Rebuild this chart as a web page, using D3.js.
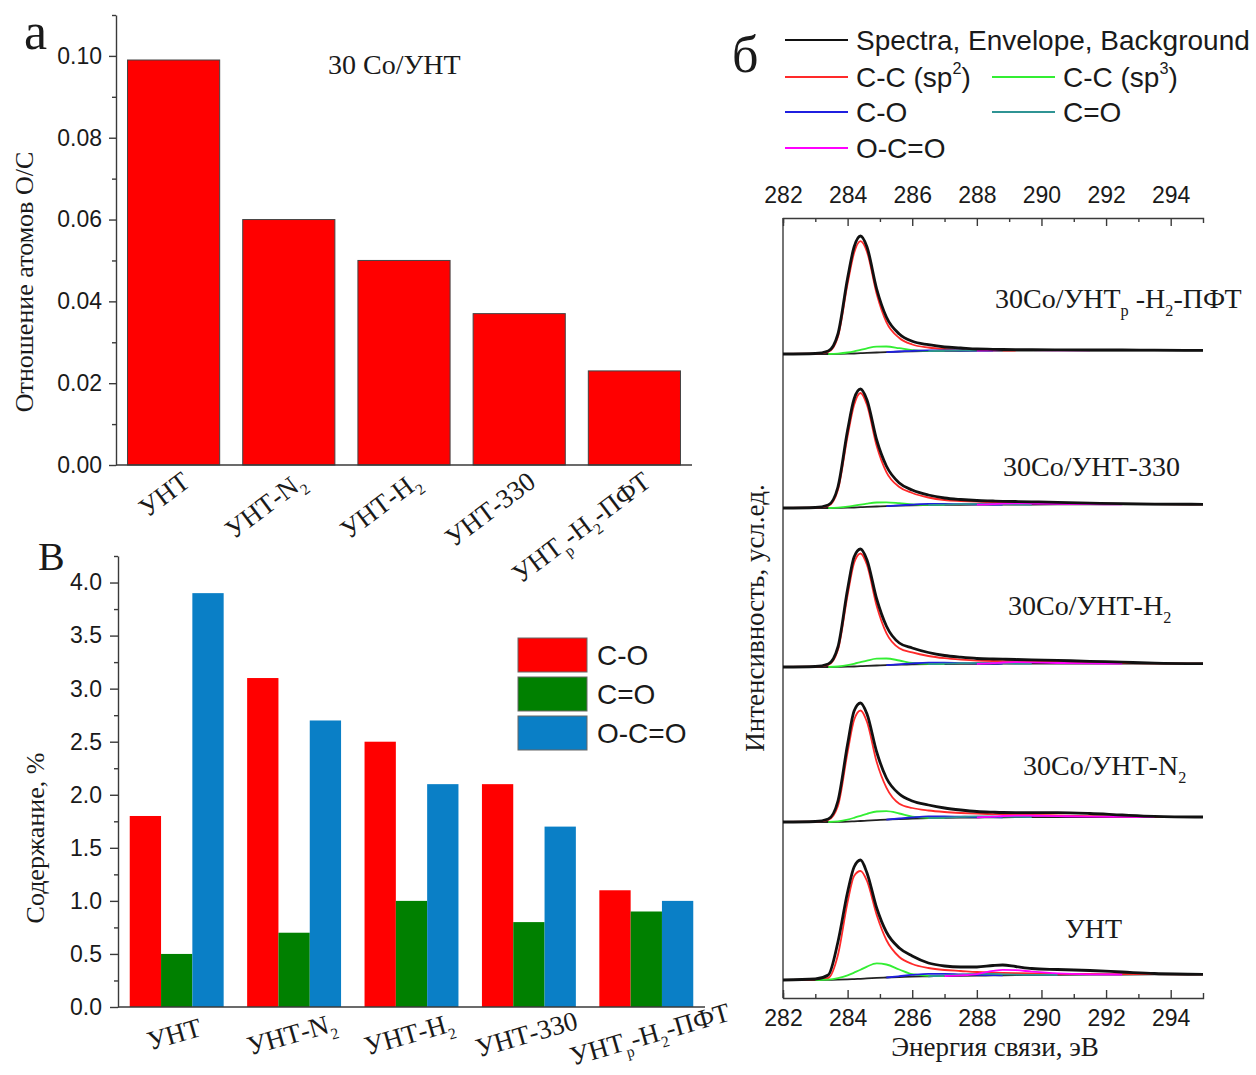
<!DOCTYPE html>
<html>
<head>
<meta charset="utf-8">
<script src="https://cdn.jsdelivr.net/npm/d3@7"></script>
<style>
body { margin: 0; background: #fff; }
svg { display: block; }
.serif { font-family: "Liberation Serif", "Times New Roman", serif; fill: #1a1a1a; }
.sans { font-family: "Liberation Sans", Arial, sans-serif; fill: #1a1a1a; }
.axis path, .axis line { stroke: #3a3a3a; stroke-width: 1.4; }
.axis text { font-family: "Liberation Sans", Arial, sans-serif; font-size: 23px; fill: #1a1a1a; }
</style>
</head>
<body>
<svg id="fig" width="1256" height="1075"></svg>
<script>
// ---- panel а: O/C ratio ----
const samples = ["УНТ", "УНТ-N_2", "УНТ-H_2", "УНТ-330", "УНТ_р-H_2-ПФТ"];
const ratioOC = [0.099, 0.060, 0.050, 0.037, 0.023];
const ratioTicks = [0, 0.02, 0.04, 0.06, 0.08, 0.10];
const ratioMinor = [0.01, 0.03, 0.05, 0.07, 0.09, 0.11];

// ---- panel в: oxygen groups, % ----
const groupNames = ["C-O", "C=O", "O-C=O"];
const groupColors = ["#ff0000", "#008000", "#0a7fc6"];
const contentCO = [1.8, 3.1, 2.5, 2.1, 1.1];
const contentC2O = [0.5, 0.7, 1.0, 0.8, 0.9];
const contentOCO = [3.9, 2.7, 2.1, 1.7, 1.0];
const contentTicks = [0, 0.5, 1.0, 1.5, 2.0, 2.5, 3.0, 3.5, 4.0];
const contentMinor = [0.25, 0.75, 1.25, 1.75, 2.25, 2.75, 3.25, 3.75, 4.25];

// ---- panel б: C1s spectra (intensity, a.u.) ----
const spectraNames = ["30Co/УНТ_р -H_2-ПФТ", "30Co/УНТ-330", "30Co/УНТ-H_2", "30Co/УНТ-N_2", "УНТ"];
const stackOffset = [644, 490, 331, 176, 18];
const energy = [282, 283, 283.4, 283.7, 284, 284.2, 284.4, 284.6, 284.9, 285.2, 285.6, 286, 286.5,
                287, 287.5, 288, 288.5, 288.8, 289.2, 289.7, 290.5, 291.5, 292.5, 293.5, 295];
const energyTicks = [282, 284, 286, 288, 290, 292, 294];
const energyMinor = [283, 285, 287, 289, 291, 293];

const envelope = [
  [0, 0.5, 3, 20, 76, 107, 118, 107, 65, 37, 20, 12.7, 9.3, 7, 6, 5, 4.7, 4.5, 4.4, 4.3, 4.2, 4, 4, 3.8, 3.7],
  [0, 0.5, 3, 21, 78, 109, 119, 108, 68, 42, 25, 18, 13, 10, 8.5, 7.5, 7, 6.7, 6.5, 6.2, 5.6, 4.9, 4.3, 3.9, 3.7],
  [0, 0.5, 3, 20, 78, 110, 118, 107, 68, 41, 24, 19, 14.5, 11.5, 9.8, 8.5, 8, 7.8, 7.5, 7.2, 6.6, 5.7, 4.8, 3.9, 3.4],
  [0, 0.5, 3, 21, 78, 111, 119, 108, 70, 44, 28, 21, 17, 14, 12, 10.5, 9.8, 9.5, 9.4, 9.3, 9.3, 8.5, 7, 5.7, 5],
  [0, 1, 5, 38, 88, 113, 120, 107, 72, 48, 32, 24, 17, 14, 13, 13, 14.5, 15, 13.5, 11.5, 10.5, 9.5, 8, 6.5, 5.7]
];
const background = [
  [0, 0, 0, 0.1, 0.3, 0.5, 0.8, 1.1, 1.5, 1.9, 2.3, 2.6, 2.9, 3.1, 3.2, 3.3, 3.4, 3.4, 3.5, 3.5, 3.6, 3.6, 3.7, 3.7, 3.7],
  [0, 0, 0, 0.1, 0.3, 0.5, 0.8, 1.1, 1.5, 1.9, 2.3, 2.6, 2.9, 3.1, 3.2, 3.3, 3.4, 3.4, 3.5, 3.5, 3.6, 3.6, 3.7, 3.7, 3.7],
  [0, 0, 0, 0.1, 0.3, 0.5, 0.8, 1.1, 1.5, 1.9, 2.3, 2.6, 2.8, 3, 3.1, 3.2, 3.2, 3.3, 3.3, 3.3, 3.3, 3.4, 3.4, 3.4, 3.4],
  [0, 0, 0, 0.1, 0.4, 0.7, 1, 1.4, 1.9, 2.4, 3, 3.4, 3.8, 4.1, 4.3, 4.5, 4.6, 4.7, 4.8, 4.8, 4.9, 4.9, 5, 5, 5],
  [0, 0, 0.1, 0.3, 0.6, 0.9, 1.2, 1.6, 2.1, 2.5, 3, 3.3, 3.7, 4, 4.2, 4.4, 4.6, 4.7, 4.8, 4.9, 5.1, 5.3, 5.5, 5.6, 5.7]
];
// fitted components, height above the background
const peakSp2 = [
  [0, 0.3, 2, 17, 70, 100.5, 112, 101, 58.5, 30, 13.7, 6.9, 3.6, 1.9, 1.1, 0.5, 0.2, 0.1, 0, 0, 0, 0, 0, 0, 0],
  [0, 0.3, 2, 17.9, 71.7, 102.5, 114.2, 101.9, 60.5, 34, 18.7, 12.4, 7.6, 4.9, 3.8, 3, 2.4, 2.1, 1.8, 1.6, 1.2, 0.8, 0.4, 0.2, 0],
  [0, 0.3, 2, 16.9, 71.7, 103.5, 112.7, 100.9, 59.5, 32, 16.5, 12, 8.2, 5.8, 4.3, 3.2, 2.8, 2.6, 2.4, 2.2, 1.8, 1.2, 0.6, 0.2, 0],
  [0, 0.3, 2, 15.9, 69.6, 101.3, 110.5, 98.6, 58, 32, 15.3, 10.6, 7.7, 5.9, 4.7, 3.8, 3.3, 3, 2.7, 2.3, 1.7, 1, 0.5, 0.2, 0],
  [0, 0.5, 1.9, 24.7, 77.4, 103.1, 107.8, 97.4, 62.9, 37.5, 20, 12.7, 8.3, 6, 4.8, 3.6, 2.8, 2.4, 2, 1.6, 1.1, 0.7, 0.4, 0.2, 0]
];
const peakSp3 = [
  [0, 0, 0, 0.3, 1.2, 2.2, 3.4, 4.6, 5.8, 5.6, 3.5, 1.3, 0.3, 0, 0, 0, 0, 0, 0, 0, 0, 0, 0, 0, 0],
  [0, 0, 0, 0.3, 1, 1.8, 2.6, 3.3, 4, 3.8, 2.5, 1, 0.2, 0, 0, 0, 0, 0, 0, 0, 0, 0, 0, 0, 0],
  [0, 0, 0, 0.4, 1.5, 2.7, 4, 5.3, 6.8, 6.6, 4.2, 1.5, 0.3, 0, 0, 0, 0, 0, 0, 0, 0, 0, 0, 0, 0],
  [0, 0, 0, 0.5, 2, 3.5, 5.2, 6.8, 8.6, 8.4, 5.5, 2, 0.4, 0, 0, 0, 0, 0, 0, 0, 0, 0, 0, 0, 0],
  [0, 0, 0.3, 1.5, 4, 6.5, 9, 11.8, 14.5, 13, 7.5, 2.5, 0.5, 0, 0, 0, 0, 0, 0, 0, 0, 0, 0, 0, 0]
];
const peakCO = [
  [0, 0, 0, 0, 0, 0, 0, 0, 0, 0, 0.2, 0.6, 0.8, 0.6, 0.3, 0.1, 0, 0, 0, 0, 0, 0, 0, 0, 0],
  [0, 0, 0, 0, 0, 0, 0, 0, 0, 0, 0.3, 0.8, 1.2, 1, 0.6, 0.3, 0.1, 0, 0, 0, 0, 0, 0, 0, 0],
  [0, 0, 0, 0, 0, 0, 0, 0, 0, 0, 0.4, 1, 1.5, 1.3, 0.8, 0.4, 0.1, 0, 0, 0, 0, 0, 0, 0, 0],
  [0, 0, 0, 0, 0, 0, 0, 0, 0, 0, 0.5, 1.2, 1.8, 1.6, 1, 0.5, 0.2, 0, 0, 0, 0, 0, 0, 0, 0],
  [0, 0, 0, 0, 0, 0, 0, 0, 0, 0, 0.8, 1.8, 2.5, 2.2, 1.4, 0.7, 0.3, 0, 0, 0, 0, 0, 0, 0, 0]
];
const peakC2O = [
  [0, 0, 0, 0, 0, 0, 0, 0, 0, 0, 0, 0, 0, 0.2, 0.4, 0.4, 0.2, 0, 0, 0, 0, 0, 0, 0, 0],
  [0, 0, 0, 0, 0, 0, 0, 0, 0, 0, 0, 0, 0, 0.3, 0.6, 0.8, 0.6, 0.4, 0.2, 0, 0, 0, 0, 0, 0],
  [0, 0, 0, 0, 0, 0, 0, 0, 0, 0, 0, 0, 0, 0.3, 0.7, 0.9, 0.7, 0.5, 0.2, 0, 0, 0, 0, 0, 0],
  [0, 0, 0, 0, 0, 0, 0, 0, 0, 0, 0, 0, 0, 0.3, 0.8, 1.1, 0.9, 0.6, 0.3, 0, 0, 0, 0, 0, 0],
  [0, 0, 0, 0, 0, 0, 0, 0, 0, 0, 0, 0, 0, 0.5, 1.2, 1.8, 1.5, 1, 0.5, 0.2, 0, 0, 0, 0, 0]
];
const peakOCO = [
  [0, 0, 0, 0, 0, 0, 0, 0, 0, 0, 0, 0, 0, 0, 0, 0, 0.3, 0.5, 0.5, 0.3, 0.1, 0, 0, 0, 0],
  [0, 0, 0, 0, 0, 0, 0, 0, 0, 0, 0, 0, 0, 0, 0, 0, 0.5, 1, 1.2, 1, 0.5, 0.2, 0, 0, 0],
  [0, 0, 0, 0, 0, 0, 0, 0, 0, 0, 0, 0, 0, 0, 0, 0, 0.6, 1.2, 1.5, 1.3, 0.7, 0.2, 0, 0, 0],
  [0, 0, 0, 0, 0, 0, 0, 0, 0, 0, 0, 0, 0, 0, 0, 0, 0.7, 1.3, 1.6, 1.5, 1, 0.4, 0.1, 0, 0],
  [0, 0, 0, 0, 0, 0, 0, 0, 0, 0, 0, 0, 0, 0, 0.4, 1.5, 4.5, 5.5, 5, 3.5, 1.5, 0.4, 0, 0, 0]
];
const components = [
  { name: "C-C (sp^2)", color: "#ff2a2a", data: peakSp2 },
  { name: "C-C (sp^3)", color: "#33ee33", data: peakSp3 },
  { name: "C-O", color: "#1f1fe0", data: peakCO },
  { name: "C=O", color: "#2f9494", data: peakC2O },
  { name: "O-C=O", color: "#ff00ff", data: peakOCO }
];

const svg = d3.select("#fig");

// text with "_x" subscripts and "^x" superscripts
function richText(sel, str, size) {
    const parts = str.split(/([_^].)/).filter(s => s.length);
    let shift = 0;
    parts.forEach(p => {
        const t = sel.append("tspan");
        if (p[0] === "_" || p[0] === "^") {
            const d = p[0] === "_" ? 0.28 * size : -0.45 * size;
            t.attr("font-size", size * 0.58).attr("dy", d - shift).text(p[1]);
            shift = d;
        } else {
            if (shift !== 0) t.attr("dy", -shift);
            t.text(p);
            shift = 0;
        }
    });
    return sel;
}

function minorTicks(g, axis) {
    g.call(axis).call(s => s.select(".domain").remove()).call(s => s.selectAll("text").remove());
}

// ================= panel а =================
const xA = d3.scaleBand().domain(samples).range([116, 692]).paddingInner(0.2).paddingOuter(0.1);
const yA = d3.scaleLinear().domain([0, 0.11]).range([465, 15]);

const gA = svg.append("g");
gA.selectAll("rect").data(ratioOC).join("rect")
    .attr("x", (d, i) => xA(samples[i]))
    .attr("y", d => yA(d))
    .attr("width", xA.bandwidth())
    .attr("height", d => yA(0) - yA(d))
    .attr("fill", "#ff0000")
    .attr("stroke", "#444")
    .attr("stroke-width", 1);

gA.append("g").attr("class", "axis").attr("transform", "translate(116,0)")
    .call(d3.axisLeft(yA).tickValues(ratioTicks).tickFormat(d3.format(".2f")).tickSizeInner(7).tickSizeOuter(0).tickPadding(7));
gA.append("g").attr("class", "axis").attr("transform", "translate(116,0)")
    .call(g => minorTicks(g, d3.axisLeft(yA).tickValues(ratioMinor).tickSize(4)));
gA.append("line")
    .attr("x1", 116).attr("x2", 692).attr("y1", yA(0)).attr("y2", yA(0))
    .attr("stroke", "#3a3a3a").attr("stroke-width", 1.4);

gA.selectAll(".xlab").data(samples).join("text")
    .attr("class", "serif xlab")
    .attr("font-size", 27)
    .attr("text-anchor", "end")
    .attr("transform", d => `translate(${xA(d) + xA.bandwidth() / 2 + 18},${yA(0) + 20}) rotate(-37)`)
    .each(function (d) { richText(d3.select(this), d, 27); });

gA.append("text").attr("class", "serif").attr("font-size", 26)
    .attr("text-anchor", "middle")
    .attr("transform", "translate(33,282) rotate(-90)")
    .text("Отношение атомов O/C");
gA.append("text").attr("class", "serif").attr("font-size", 28).attr("x", 328).attr("y", 74).text("30 Co/УНТ");
gA.append("text").attr("class", "serif").attr("font-size", 52).attr("x", 24).attr("y", 49).text("а");

// ================= panel в =================
const series = [contentCO, contentC2O, contentOCO];
const xB = d3.scaleBand().domain(samples).range([118, 705]).paddingInner(0.2).paddingOuter(0.1);
const xB1 = d3.scaleBand().domain(groupNames).range([0, xB.bandwidth()]);
const yB = d3.scaleLinear().domain([0, 4.25]).range([1007, 556]);

const gB = svg.append("g");
samples.forEach((s, i) => {
    gB.append("g").attr("transform", `translate(${xB(s)},0)`)
        .selectAll("rect").data(groupNames).join("rect")
        .attr("x", g => xB1(g))
        .attr("y", (g, j) => yB(series[j][i]))
        .attr("width", xB1.bandwidth())
        .attr("height", (g, j) => yB(0) - yB(series[j][i]))
        .attr("fill", (g, j) => groupColors[j]);
});

gB.append("g").attr("class", "axis").attr("transform", "translate(118,0)")
    .call(d3.axisLeft(yB).tickValues(contentTicks).tickFormat(d3.format(".1f")).tickSizeInner(8).tickSizeOuter(0).tickPadding(8));
gB.append("g").attr("class", "axis").attr("transform", "translate(118,0)")
    .call(g => minorTicks(g, d3.axisLeft(yB).tickValues(contentMinor).tickSize(4)));
gB.append("line")
    .attr("x1", 118).attr("x2", 705).attr("y1", yB(0)).attr("y2", yB(0))
    .attr("stroke", "#3a3a3a").attr("stroke-width", 1.4);

gB.selectAll(".xlab").data(samples).join("text")
    .attr("class", "serif xlab")
    .attr("font-size", 27)
    .attr("text-anchor", "middle")
    .attr("transform", (d, i) => `translate(${xB(d) + xB.bandwidth() / 2 + (i === 4 ? 6 : 0)},${yB(0) + 36}) rotate(-16)`)
    .each(function (d) { richText(d3.select(this), d, 27); });

gB.append("text").attr("class", "serif").attr("font-size", 26)
    .attr("text-anchor", "middle")
    .attr("transform", "translate(44,838) rotate(-90)")
    .text("Содержание, %");
gB.append("text").attr("class", "serif").attr("font-size", 40).attr("x", 38).attr("y", 570).text("В");

const legB = gB.append("g").attr("transform", "translate(518,638)");
groupNames.forEach((g, j) => {
    legB.append("rect").attr("x", 0).attr("y", j * 39).attr("width", 69).attr("height", 34)
        .attr("fill", groupColors[j]).attr("stroke", "#666").attr("stroke-width", 1);
    legB.append("text").attr("class", "sans").attr("font-size", 28)
        .attr("x", 79).attr("y", j * 39 + 17 + 10).text(g);
});

// ================= panel б =================
const xE = d3.scaleLinear().domain([282, 295]).range([783, 1203]);
const yI = d3.scaleLinear().domain([0, 780]).range([998, 218]);
const gS = svg.append("g");

gS.append("g").attr("class", "axis").attr("transform", "translate(0,998)")
    .call(d3.axisBottom(xE).tickValues(energyTicks).tickSizeInner(-8).tickSizeOuter(-5).tickPadding(12));
gS.append("g").attr("class", "axis").attr("transform", "translate(0,998)")
    .call(g => minorTicks(g, d3.axisBottom(xE).tickValues(energyMinor).tickSize(-4)));
gS.append("g").attr("class", "axis").attr("transform", "translate(0,218)")
    .call(d3.axisTop(xE).tickValues(energyTicks).tickSizeInner(-8).tickSizeOuter(-5).tickPadding(15));
gS.append("g").attr("class", "axis").attr("transform", "translate(0,218)")
    .call(g => minorTicks(g, d3.axisTop(xE).tickValues(energyMinor).tickSize(-4)));
gS.append("line").attr("x1", 783).attr("x2", 783).attr("y1", 218).attr("y2", 998)
    .attr("stroke", "#3a3a3a").attr("stroke-width", 1.4);

const line = d3.line().x(d => xE(d[0])).y(d => yI(d[1])).curve(d3.curveMonotoneX);

spectraNames.forEach((name, k) => {
    const off = stackOffset[k];
    const bg = background[k];
    const g = gS.append("g");
    g.append("path")
        .attr("d", line(energy.map((e, i) => [e, off + bg[i]])))
        .attr("fill", "none").attr("stroke", "#222").attr("stroke-width", 1.8);
    components.forEach(c => {
        const v = c.data[k];
        let a = v.findIndex(x => x > 0), b = v.length - 1;
        while (b > 0 && v[b] <= 0) b--;
        a = Math.max(0, a - 1); b = Math.min(v.length - 1, b + 1);
        const pts = d3.range(a, b + 1).map(i => [energy[i], off + bg[i] + v[i]]);
        g.append("path").attr("d", line(pts))
            .attr("fill", "none").attr("stroke", c.color).attr("stroke-width", 1.8);
    });
    g.append("path")
        .attr("d", line(energy.map((e, i) => [e, off + envelope[k][i]])))
        .attr("fill", "none").attr("stroke", "#111").attr("stroke-width", 2.8);
});

const nameX = [995, 1003, 1008, 1023, 1065];
const nameLift = [56, 42, 62, 57, 52];
spectraNames.forEach((name, k) => {
    gS.append("text").attr("class", "serif").attr("font-size", 28)
        .attr("x", nameX[k]).attr("y", yI(stackOffset[k] + nameLift[k]) + 10)
        .each(function () { richText(d3.select(this), name, 28); });
});

gS.append("text").attr("class", "serif").attr("font-size", 27)
    .attr("text-anchor", "middle").attr("x", 995).attr("y", 1056).text("Энергия связи, эВ");
gS.append("text").attr("class", "serif").attr("font-size", 27)
    .attr("text-anchor", "middle").attr("transform", "translate(764,618) rotate(-90)")
    .text("Интенсивность, усл.ед.");
gS.append("text").attr("class", "serif").attr("font-size", 52).attr("x", 732).attr("y", 72).text("б");

// legend
const legendItems = [
    { name: "Spectra, Envelope, Background", color: "#111", col: 0, row: 0 },
    { name: components[0].name, color: components[0].color, col: 0, row: 1 },
    { name: components[1].name, color: components[1].color, col: 1, row: 1 },
    { name: components[2].name, color: components[2].color, col: 0, row: 2 },
    { name: components[3].name, color: components[3].color, col: 1, row: 2 },
    { name: components[4].name, color: components[4].color, col: 0, row: 3 }
];
const rowY = [40, 77, 112, 148];
const colX = [785, 992];
legendItems.forEach(it => {
    const x0 = colX[it.col], y0 = rowY[it.row];
    gS.append("line").attr("x1", x0).attr("x2", x0 + 63).attr("y1", y0).attr("y2", y0)
        .attr("stroke", it.color).attr("stroke-width", 2);
    gS.append("text").attr("class", "sans").attr("font-size", 28)
        .attr("x", x0 + 71).attr("y", y0 + 10)
        .each(function () { richText(d3.select(this), it.name, 28); });
});
</script>
</body>
</html>
